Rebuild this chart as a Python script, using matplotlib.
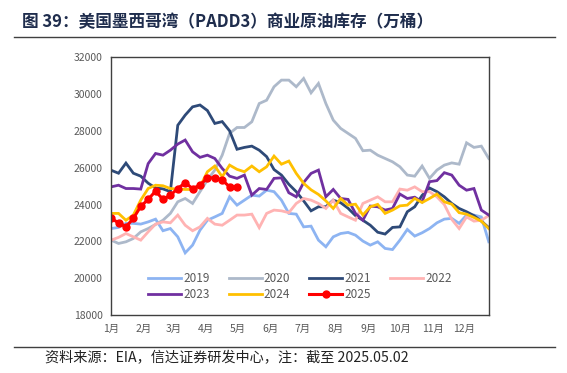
import numpy as np
import matplotlib
matplotlib.use("Agg")
import matplotlib.pyplot as plt

plt.rcParams['font.family'] = ['Noto Sans CJK SC', 'DejaVu Sans']

# weekly commercial crude stocks, PADD3 (10k barrels)
y2019 = [22700, 22760, 22980, 22980, 22940, 23060, 23210, 22580, 22700, 22250,
         21380, 21800, 22610, 23150, 23330, 23520, 24420, 23970, 24240, 24510,
         24460, 24780, 24700, 24240, 23520, 23480, 22790, 22830, 22070, 21710,
         22250, 22430, 22490, 22340, 22020, 21800, 21980, 21620, 21560, 22070,
         22650, 22290, 22470, 22700, 23010, 23210, 23250, 22980, 23430, 23430,
         23330, 21980]
y2020 = [22070, 21890, 21980, 22160, 22520, 22700, 22920, 23150, 23520, 24150,
         24330, 24060, 24700, 25330, 25870, 26680, 27860, 28180, 28180, 28490,
         29480, 29660, 30390, 30750, 30750, 30390, 30840, 30060, 30570, 29480,
         28580, 28130, 27860, 27590, 26920, 26950, 26680, 26500, 26320, 26050,
         25600, 25540, 26090, 25420, 25870, 26140, 26260, 26190, 27350, 27100,
         27170, 26500]
y2021 = [25860, 25700, 26250, 25700, 25540, 25160, 24900, 24850, 24700, 28300,
         28850, 29300, 29400, 29100, 28400, 28500, 28000, 27000, 27100, 27170,
         26950, 26600, 25900, 25600, 25100, 24700, 24200, 23660, 23880, 23880,
         24240, 24100, 23800, 23400, 23150, 22880, 22500, 22400, 22760, 22790,
         23610, 23880, 24500, 24900, 24700, 24420, 24060, 23790, 23610, 23400,
         23100, 22750]
y2022 = [22070, 22220, 22430, 22250, 22070, 22520, 22940, 23060, 23010, 23430,
         22880, 22580, 22790, 23250, 22940, 22880, 23150, 23430, 23430, 23480,
         22750, 23520, 23700, 23660, 23560, 24060, 24330, 24240, 24060, 23790,
         24240, 23520, 23330, 23150, 24060, 24240, 24420, 24150, 24150, 24840,
         24780, 24960, 24700, 24700, 24420, 24000, 23200, 22700, 23330, 23100,
         23150, 23400]
y2023 = [24960, 25050, 24870, 24870, 24840, 26220, 26770, 26680, 26950, 27280,
         27500, 26860, 26560, 26680, 26500, 25960, 25540, 25420, 25600, 24510,
         24870, 24820, 25420, 25450, 24640, 24420, 25200, 25690, 25870, 24420,
         24820, 24330, 24280, 23520, 23150, 23920, 23880, 23700, 23790, 24570,
         24330, 24400, 24150, 25240, 25300, 25730, 25600, 25050, 24780, 24870,
         23700, 23430]
y2024 = [23520, 23520, 23150, 23430, 24240, 24870, 25050, 25020, 24870, 24840,
         24820, 24820, 24960, 25780, 26090, 25510, 26140, 25910, 25780, 26090,
         25780, 26050, 26630, 26190, 26360, 25690, 25150, 24800, 24550, 24200,
         23790, 24330, 23970, 24020, 23430, 23880, 24010, 23520, 23700, 23930,
         23970, 24330, 24110, 24330, 24570, 24150, 24020, 23560, 23480, 23300,
         23100, 22700]
y2025 = [23250, 23010, 22790, 23250, 23900, 24280, 24730, 24280, 24510, 24870,
         25180, 24870, 25050, 25450, 25450, 25330, 24960, 24960]

months = ['1月', '2月', '3月', '4月', '5月', '6月', '7月', '8月', '9月', '10月', '11月', '12月']
month_start_day = [0, 31, 59, 90, 120, 151, 181, 212, 243, 273, 304, 334]

series = [
    ('2019', y2019, '#8DB4F2'),
    ('2020', y2020, '#ADB9CA'),
    ('2021', y2021, '#2E4A78'),
    ('2022', y2022, '#FFB3B3'),
    ('2023', y2023, '#7030A0'),
    ('2024', y2024, '#FFC000'),
]

fig = plt.figure(figsize=(5.67, 3.73), dpi=100)
ax = fig.add_axes([0.196, 0.155, 0.666, 0.692])

handles = {}
for name, vals, col in series:
    ln, = ax.plot(np.arange(len(vals)), vals, color=col, lw=2.0, solid_joinstyle='miter')
    handles[name] = ln
ln, = ax.plot(np.arange(len(y2025)), y2025, color='#FF0000', lw=2.2,
              marker='o', markersize=5)
handles['2025'] = ln

ax.set_xlim(0, 51)
ax.set_ylim(18000, 32000)
ax.set_yticks(np.arange(18000, 32001, 2000))
ax.set_xticks([d / 7 for d in month_start_day])
ax.set_xticklabels(months)
ax.tick_params(axis='both', length=0, labelsize=7.5, colors='#595959', pad=6)
for s in ax.spines.values():
    s.set_color('#404040')
    s.set_linewidth(1.0)

order = ['2019', '2023', '2020', '2024', '2021', '2025', '2022']
ax.legend([handles[k] for k in order], order, ncol=4, loc='center',
          bbox_to_anchor=(0.5, 0.11), frameon=False, fontsize=8.5,
          labelcolor='#595959', handlelength=2.8, handletextpad=0.2,
          columnspacing=1.6, labelspacing=0.25)

fig.text(0.038, 0.94, '图 39：美国墨西哥湾（PADD3）商业原油库存（万桶）',
         fontsize=12, fontweight='bold', color='#1F2D4D', va='center')
fig.add_artist(plt.Line2D([0.025, 0.978], [0.9, 0.9], color='#404040', lw=1.0))
fig.add_artist(plt.Line2D([0.025, 0.978], [0.07, 0.07], color='#404040', lw=1.0))
fig.text(0.08, 0.04, '资料来源：EIA，信达证券研发中心，注：截至 2025.05.02',
         fontsize=10.2, color='#222222', va='center', style='italic')

fig.savefig('out.png', dpi=100)
